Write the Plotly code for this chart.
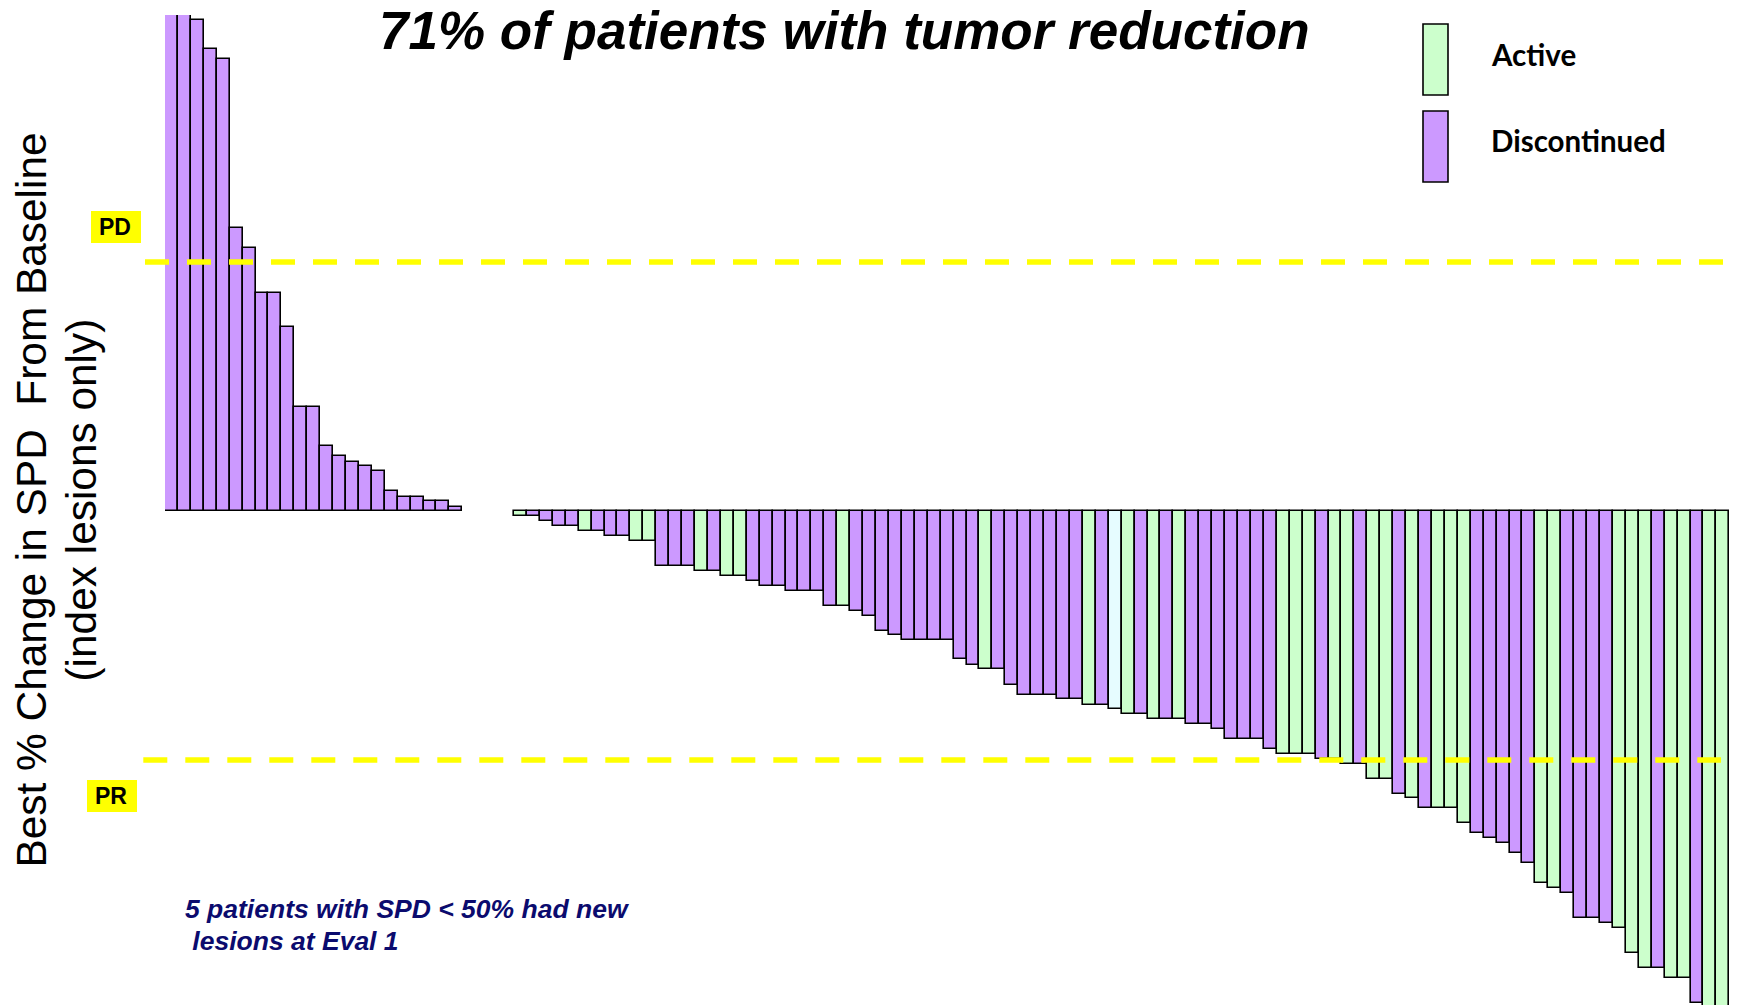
import plotly.graph_objects as go

# ---------------- data ----------------
# Patients with tumour growth (all discontinued)
pos_values = [150, 130, 98.6, 92.7, 90.7, 56.8, 52.8, 43.8, 43.8, 36.9, 20.9, 20.9,
              13.1, 11.0, 9.9, 9.0, 8.0, 4.0, 2.9, 2.9, 2.0, 2.0, 0.9]
pos_status = ["Discontinued"] * len(pos_values)

# empty slots between growth and reduction groups
gap_slots = 4

# Patients with tumour reduction
neg_values = [-1, -1, -2, -3, -3, -4, -4, -5, -5, -6,
              -6, -11, -11, -11, -12, -12, -13, -13, -14, -15,
              -15, -16, -16, -16, -19, -19, -20, -21, -24, -25,
              -26, -26, -26, -26, -29.7, -30.9, -31.7, -31.7, -34.9, -36.9,
              -37, -37, -37.8, -37.8, -39, -39, -39.8, -40.8, -40.8, -41.8,
              -41.8, -41.8, -42.8, -42.8, -43.8, -45.8, -45.8, -45.8, -47.8, -48.8,
              -48.8, -48.8, -49.8, -49.8, -50.8, -50.8, -53.8, -53.8, -56.8, -57.7,
              -59.7, -59.7, -59.7, -62.7, -64.7, -65.6, -66.7, -68.7, -70.7, -74.8,
              -75.8, -76.8, -81.8, -81.8, -82.7, -83.7, -88.7, -91.7, -91.7, -93.7,
              -93.7, -98.7, -100, -100]
A, D, U = "Active", "Discontinued", "Unknown"
neg_status = [A, D, D, D, D, A, D, D, D, A,
              A, D, D, D, A, D, A, A, D, D,
              D, D, D, D, D, A, D, D, D, D,
              D, D, D, D, D, D, A, D, D, D,
              D, D, D, D, A, D, U, A, D, A,
              D, A, D, D, D, D, D, D, D, A,
              A, A, D, A, A, D, A, A, D, A,
              D, A, A, A, D, D, D, D, D, A,
              A, D, D, D, D, A, A, A, D, A,
              A, D, A, A]

title_text = "71% of patients with tumor reduction"
ytitle_line1 = "Best % Change in SPD\u00a0 From Baseline"
ytitle_line2 = "(index lesions only)"
note_lines = ["5 patients with SPD < 50% had new", "\u00a0lesions at Eval 1"]
legend_labels = ["Active", "Discontinued"]
pd_level, pr_level = 50, -50

status_colors = {"Active": "#CCFFCC", "Discontinued": "#CC99FF", "Unknown": "#E6FCFF"}

# ---------------- build ----------------
values = pos_values + [None] * gap_slots + neg_values
status = pos_status + [None] * gap_slots + neg_status
xs = list(range(len(values)))
colors = [status_colors[s] if s else "rgba(0,0,0,0)" for s in status]

W, H = 1739, 1005
def px(x):
    return x / W
def py(y):
    return 1 - y / H

fig = go.Figure()
fig.add_trace(go.Bar(
    x=xs, y=values,
    marker=dict(color=colors, line=dict(color="black", width=1.6)),
    showlegend=False, hoverinfo="y",
))

fig.update_layout(
    width=W, height=H,
    margin=dict(l=0, r=0, t=0, b=0),
    paper_bgcolor="white", plot_bgcolor="white",
    bargap=0,
    showlegend=False,
    xaxis=dict(domain=[165 / W, 1729.3 / W], range=[-0.5, len(values) - 0.5],
               showgrid=False, zeroline=False, showticklabels=False, showline=False,
               ticks=""),
    yaxis=dict(domain=[0, 990 / H], range=[-99.2, 99.6],
               showgrid=False, zeroline=False, showticklabels=False, showline=False,
               ticks=""),
)

shapes = []
# PD / PR dashed reference lines
shapes.append(dict(type="line", xref="paper", yref="y", x0=px(145), x1=px(1725),
                   y0=pd_level, y1=pd_level,
                   line=dict(color="#FFFF00", width=5.5, dash="24px,18px")))
shapes.append(dict(type="line", xref="paper", yref="y", x0=px(143.3), x1=px(1721),
                   y0=pr_level, y1=pr_level,
                   line=dict(color="#FFFF00", width=5.5, dash="24px,18px")))
# PD / PR label boxes
shapes.append(dict(type="rect", xref="paper", yref="paper", x0=px(91), x1=px(141),
                   y0=py(243), y1=py(211), fillcolor="#FFFF00", line=dict(width=0)))
shapes.append(dict(type="rect", xref="paper", yref="paper", x0=px(87), x1=px(137),
                   y0=py(812), y1=py(780), fillcolor="#FFFF00", line=dict(width=0)))
# legend swatches
shapes.append(dict(type="rect", xref="paper", yref="paper", x0=px(1423), x1=px(1448),
                   y0=py(95), y1=py(24), fillcolor=status_colors["Active"],
                   line=dict(color="black", width=1.6)))
shapes.append(dict(type="rect", xref="paper", yref="paper", x0=px(1423), x1=px(1448),
                   y0=py(182), y1=py(111), fillcolor=status_colors["Discontinued"],
                   line=dict(color="black", width=1.6)))
fig.update_layout(shapes=shapes)

arial = "Liberation Sans, Arial, sans-serif"
ann = []
ann.append(dict(text="<b><i>" + title_text + "</i></b>", xref="paper", yref="paper",
                x=px(844), y=py(31), xanchor="center", yanchor="middle", showarrow=False,
                font=dict(family=arial, size=53, color="black")))
ann.append(dict(text=ytitle_line1, xref="paper", yref="paper",
                x=px(31.5), y=py(500), xanchor="center", yanchor="middle", showarrow=False,
                textangle=-90, font=dict(family=arial, size=42.4, color="black")))
ann.append(dict(text=ytitle_line2, xref="paper", yref="paper",
                x=px(81.5), y=py(500), xanchor="center", yanchor="middle", showarrow=False,
                textangle=-90, font=dict(family=arial, size=42.4, color="black")))
ann.append(dict(text="<b>PD</b>", xref="paper", yref="paper", x=px(115), y=py(227),
                xanchor="center", yanchor="middle", showarrow=False,
                font=dict(family=arial, size=23, color="black")))
ann.append(dict(text="<b>PR</b>", xref="paper", yref="paper", x=px(111), y=py(796),
                xanchor="center", yanchor="middle", showarrow=False,
                font=dict(family=arial, size=23, color="black")))
for line, yc in zip(note_lines, [908.5, 940.5]):
    ann.append(dict(text="<b><i>" + line + "</i></b>", xref="paper", yref="paper",
                    x=px(183), y=py(yc), xanchor="left", yanchor="middle", align="left",
                    showarrow=False, font=dict(family=arial, size=26.5, color="#0B0B6E")))
ann.append(dict(text="<b>" + legend_labels[0] + "</b>", xref="paper", yref="paper",
                x=px(1489), y=py(55), xanchor="left", yanchor="middle", showarrow=False,
                font=dict(family="Lato, Calibri, sans-serif", size=29.5, color="black")))
ann.append(dict(text="<b>" + legend_labels[1] + "</b>", xref="paper", yref="paper",
                x=px(1489), y=py(140), xanchor="left", yanchor="middle", showarrow=False,
                font=dict(family="Lato, Calibri, sans-serif", size=29.5, color="black")))
fig.update_layout(annotations=ann)

fig.write_html("out.html", config={"displayModeBar": False},
               post_script="document.body.style.margin='0px';document.body.style.overflow='hidden';")
